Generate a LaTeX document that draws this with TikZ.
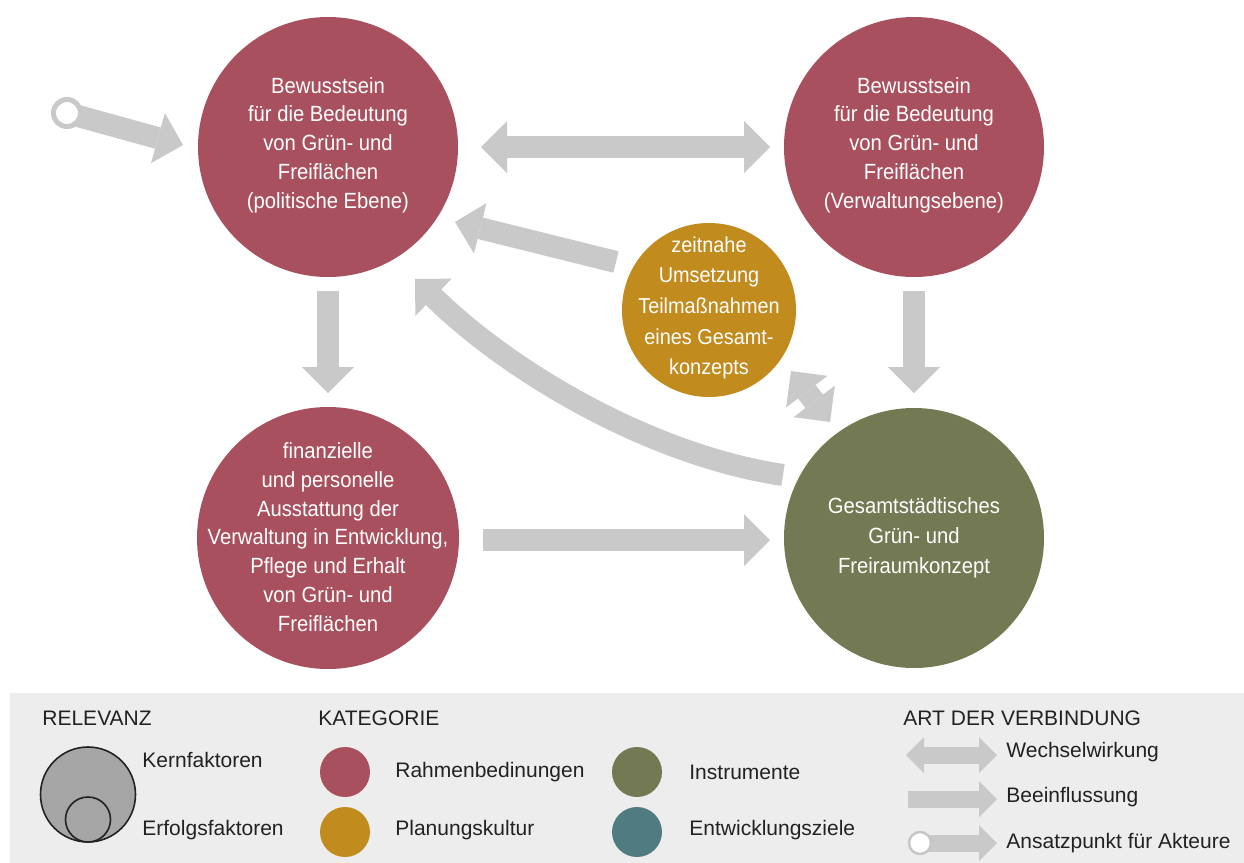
\documentclass[tikz,border=0pt]{standalone}
\usepackage{fontspec}
\setmainfont{Liberation Sans}
\newfontfamily\circfont[FakeStretch=0.92]{Liberation Sans}
\usetikzlibrary{arrows.meta}
\definecolor{rahmen}{HTML}{A9505F}
\definecolor{planung}{HTML}{C18B1D}
\definecolor{instr}{HTML}{737A53}
\definecolor{ziel}{HTML}{4F7B81}
\definecolor{arrowgray}{HTML}{C9C9C9}
\definecolor{legendbg}{HTML}{EDEDED}
\definecolor{relgray}{HTML}{A6A6A6}
\definecolor{legtext}{HTML}{222222}
\tikzset{
  factor/.style={circle, inner sep=0pt, draw=none},
  ctext/.style={text=white, align=center, font=\circfont\fontsize{11}{14.4}\selectfont},
  gtext/.style={text=white, align=center, font=\circfont\fontsize{10.8}{15.3}\selectfont},
  bigarrow/.style={draw=arrowgray, line width=11pt, line cap=butt,
    -{Triangle[width=26pt,length=13pt,line width=0pt]}},
  bigdouble/.style={draw=arrowgray, line width=11pt, line cap=butt,
    {Triangle[width=26pt,length=13pt,line width=0pt]}-{Triangle[width=26pt,length=13pt,line width=0pt]}},
  legarrow/.style={draw=arrowgray, line width=8.5pt, line cap=butt,
    -{Triangle[width=18pt,length=9pt,line width=0pt]}},
  legdouble/.style={draw=arrowgray, line width=8.5pt, line cap=butt,
    {Triangle[width=18pt,length=9pt,line width=0pt]}-{Triangle[width=18pt,length=9pt,line width=0pt]}},
  legtxt/.style={anchor=west, inner sep=0pt, text=legtext, font=\fontsize{10.5}{12}\selectfont},
  legdot/.style={circle, inner sep=0pt, minimum size=25pt, draw=none},
}
\begin{document}
\begin{tikzpicture}[x=0.5pt,y=-0.5pt]
\useasboundingbox (0,0) rectangle (1244,863);
\fill[white] (0,0) rectangle (1244,863);

% factor circles
\node[factor, fill=rahmen, minimum size=130pt] (tl) at (328,147) {};
\node[factor, fill=rahmen, minimum size=130pt] (tr) at (914,147) {};
\node[factor, fill=rahmen, minimum size=131pt] (bl) at (328,538) {};
\node[factor, fill=instr, minimum size=130pt] (br) at (914,538) {};
\node[factor, fill=planung, minimum size=87pt] (gd) at (709,310) {};

\node[ctext] (tlt) at (328,145) {Bewusstsein\\für die Bedeutung\\von Grün- und\\Freiflächen\\(politische Ebene)};
\node[ctext] (trt) at (914,145) {Bewusstsein\\für die Bedeutung\\von Grün- und\\Freiflächen\\(Verwaltungsebene)};
\node[ctext] (blt) at (328,537) {finanzielle\\und personelle\\Ausstattung der\\Verwaltung in Entwicklung,\\Pflege und Erhalt\\von Grün- und\\Freiflächen};
\node[ctext, font=\circfont\fontsize{11}{15}\selectfont] (brt) at (914,538) {Gesamtstädtisches\\Grün- und\\Freiraumkonzept};
\node[gtext] (gdt) at (709,308) {zeitnahe\\Umsetzung\\Teilmaßnahmen\\eines Gesamt-\\konzepts};

% connector end points
\coordinate (s0c) at (67,113);
\coordinate (s1) at (183,145);
\coordinate (h0) at (481,147);
\coordinate (h1) at (770,147);
\coordinate (v0) at (328,291);
\coordinate (v1) at (328,393);
\coordinate (w0) at (914,291);
\coordinate (w1) at (914,393);
\coordinate (b0) at (483,540);
\coordinate (b1) at (770,540);
\coordinate (g0) at (616,262);
\coordinate (g1) at (455,222);
\coordinate (c0) at (783,475);
\coordinate (c1) at (415,279);
\coordinate (d0) at (791,371);
\coordinate (d1) at (830,422);

% connectors
\draw[bigarrow] (s0c) -- (s1);
\node[circle, draw=arrowgray, line width=2.5pt, fill=white, minimum size=13.5pt, inner sep=0pt] (s0) at (s0c) {};
\draw[bigdouble] (h0) -- (h1);
\draw[bigarrow] (v0) -- (v1);
\draw[bigarrow] (w0) -- (w1);
\draw[bigarrow] (b0) -- (b1);
\draw[bigarrow] (g0) -- (g1);
\draw[bigarrow] (c0) .. controls (650,455) and (510,372) .. (c1);
\draw[bigdouble] (d0) -- (d1);

% legend
\fill[legendbg] (10,693) rectangle (1244,863);
\node[legtxt] (lrel) at (42,718) {RELEVANZ};
\node[legtxt] (lkat) at (318,718) {KATEGORIE};
\node[legtxt] (lart) at (903,718) {ART DER VERBINDUNG};

\node[circle, inner sep=0pt, minimum size=47.5pt, fill=relgray, draw=legtext, line width=0.8pt] (kbig) at (88,794.5) {};
\node[circle, inner sep=0pt, minimum size=22.5pt, fill=relgray, draw=legtext, line width=0.8pt] (ksmall) at (88,819.5) {};
\node[legtxt] (lkern) at (142,760) {Kernfaktoren};
\node[legtxt] (lerf) at (142,830) {Erfolgsfaktoren};

\node[legdot, fill=rahmen] (lc1) at (345,772) {};
\node[legdot, fill=planung] (lc2) at (345,832) {};
\node[legdot, fill=instr] (lc3) at (637,772) {};
\node[legdot, fill=ziel] (lc4) at (637,832) {};
\node[legtxt] (lt1) at (395,772) {Rahmenbedinungen};
\node[legtxt] (lt2) at (395,830) {Planungskultur};
\node[legtxt] (lt3) at (689,772) {Instrumente};
\node[legtxt] (lt4) at (689,830) {Entwicklungsziele};

\coordinate (la0) at (906,755);
\coordinate (la1) at (997,755);
\coordinate (lb0) at (908,799);
\coordinate (lb1) at (997,799);
\coordinate (lcc) at (920,843);
\coordinate (lc1e) at (997,843);
\draw[legdouble] (la0) -- (la1);
\draw[legarrow] (lb0) -- (lb1);
\draw[legarrow] (lcc) -- (lc1e);
\node[circle, draw=arrowgray!80!black!60, line width=1.2pt, fill=white, minimum size=11pt, inner sep=0pt] (lans) at (lcc) {};
\node[legtxt] (lw) at (1006,752) {Wechselwirkung};
\node[legtxt] (lbf) at (1006,797) {Beeinflussung};
\node[legtxt] (lak) at (1006,843) {Ansatzpunkt für Akteure};
\end{tikzpicture}
\end{document}
